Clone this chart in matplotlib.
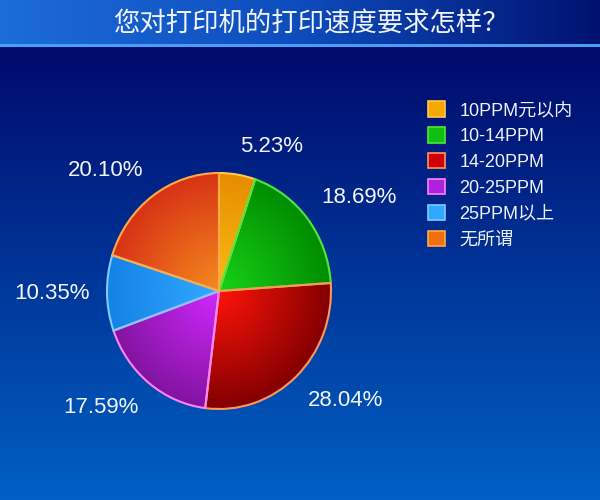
import numpy as np
import matplotlib
matplotlib.use('Agg')
import matplotlib.pyplot as plt
from matplotlib.patches import Patch

plt.rcParams['font.family'] = ['Liberation Sans', 'Noto Sans CJK SC', 'DejaVu Sans']

title = '您对打印机的打印速度要求怎样？'
categories = ['10PPM元以内', '10-14PPM', '14-20PPM', '20-25PPM', '25PPM以上', '无所谓']
values = [5.23, 18.69, 28.04, 17.59, 10.35, 20.10]
value_labels = [f'{v:.2f}%' for v in values]

inner_colors = ['#fabe14', '#18d218', '#ff140a', '#d228ff', '#32aaff', '#f58c1e']
outer_colors = ['#e68c00', '#008c00', '#820000', '#8214a0', '#1482e6', '#d73214']
edge_colors = ['#ffc850', '#50e63c', '#ff965a', '#ff82ff', '#82c8ff', '#ffaa46']
legend_colors = ['#f5a800', '#10c010', '#d00000', '#b020e0', '#30a8ff', '#f07010']


def hex2rgb(h):
    h = h.lstrip('#')
    return np.array([int(h[i:i + 2], 16) for i in (0, 2, 4)]) / 255.0


fig = plt.figure(figsize=(6, 5), dpi=100)

# background
H, W = 500, 600
bg = fig.add_axes([0, 0, 1, 1])
bg.axis('off')
t = ((np.arange(H) - 47) / (H - 47)).clip(0, 1)[:, None, None]
top = np.array([0, 10, 108]) / 255.0
bot = np.array([0, 96, 196]) / 255.0
img = np.broadcast_to(top * (1 - t) + bot * t, (H, W, 3)).copy()
xs = np.arange(W) / W
stops = [0.0, 0.5, 1.0]
cl = np.array([[28, 108, 218], [14, 76, 188], [0, 18, 112]]) / 255.0
bar = np.stack([np.interp(xs, stops, cl[:, k]) for k in range(3)], axis=-1)
img[:44] = bar[None, :, :]
img[44:47] = np.array([70, 160, 245]) / 255.0
bg.imshow(img, extent=[0, W, H, 0], aspect='auto', interpolation='bilinear')
bg.set_xlim(0, W)
bg.set_ylim(H, 0)
bg.text(311, 24, title, color='#f0f4ff', fontsize=19, ha='center', va='center',
        family=['Noto Sans CJK SC', 'DejaVu Sans'], fontweight='light')

# pie
cx, cy, rx, ry = 219, 291, 112, 118
lim = 1.6
ax = fig.add_axes([(cx - lim * rx) / W, (H - cy - lim * ry) / H, 2 * lim * rx / W, 2 * lim * ry / H])
wedges, texts = ax.pie(values, labels=value_labels, startangle=90, counterclock=False,
                       colors=legend_colors, labeldistance=1.15,
                       wedgeprops=dict(linewidth=1.5),
                       textprops=dict(color='#f4f6ff', fontsize=16))
for tx in texts:
    y = tx.get_position()[1]
    if y > 0.25:
        tx.set_va('bottom')
    elif y < -0.25:
        tx.set_va('top')

N = 400
g = np.linspace(-1, 1, N)
X, Y = np.meshgrid(g, g)
R = np.hypot(X, Y).clip(0, 1)[..., None]
for w, ci, co, ce in zip(wedges, inner_colors, outer_colors, edge_colors):
    rgb = hex2rgb(ci) * (1 - R) + hex2rgb(co) * R
    im = ax.imshow(rgb, extent=[-1, 1, -1, 1], origin='lower', aspect='auto',
                   interpolation='bilinear', zorder=0.5)
    im.set_clip_path(w)
    w.set_facecolor('none')
    w.set_edgecolor(ce)
ax.set_aspect('auto')
ax.set_xlim(-lim, lim)
ax.set_ylim(-lim, lim)
ax.axis('off')

handles = [Patch(facecolor=c, edgecolor=e, linewidth=1.2) for c, e in zip(legend_colors, edge_colors)]
fig.legend(handles, categories, loc='upper left', bbox_to_anchor=(428 / W, 1 - 101 / H),
           frameon=False, fontsize=13, labelcolor='#eef2ff', handlelength=0.95,
           handleheight=0.95, handletextpad=0.8, labelspacing=0.44, borderpad=0,
           borderaxespad=0)

fig.savefig('out.png', dpi=100)
